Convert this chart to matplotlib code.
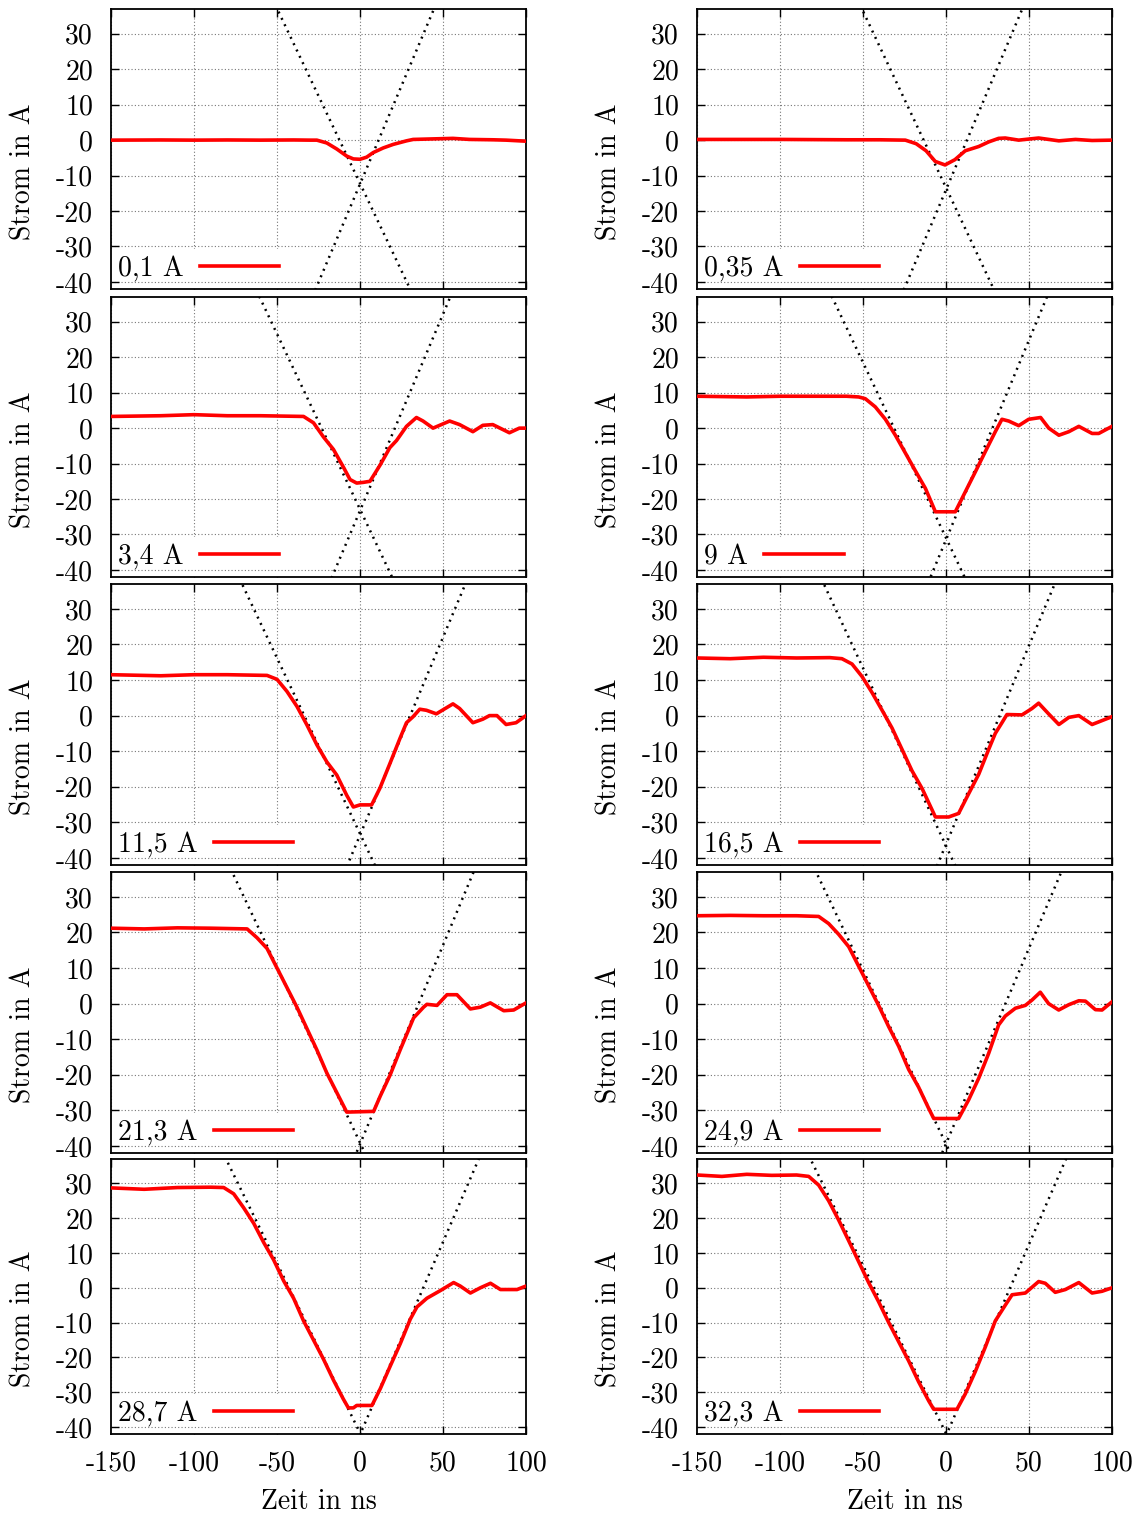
import numpy as np
import matplotlib
matplotlib.use('Agg')
import matplotlib.pyplot as plt

plt.rcParams['font.family'] = ['cmr10', 'DejaVu Serif']
plt.rcParams['axes.unicode_minus'] = False
plt.rcParams['axes.formatter.use_mathtext'] = False

# ---------------- data ----------------
labels = ['0,1 A', '0,35 A', '3,4 A', '9 A', '11,5 A',
          '16,5 A', '21,3 A', '24,9 A', '28,7 A', '32,3 A']

t_p1 = [-150, -120, -100, -80, -60, -40, -30, -26, -20, -14, -8, -4, 0, 4, 8, 14, 20, 28, 32, 40, 56, 66, 80, 88, 100]
i_p1 = [0.0, 0.05, 0.0, 0.05, 0.0, 0.05, 0.0, 0.0, -0.8, -2.5, -4.5, -5.3, -5.4, -4.8, -3.5, -2.2, -1.2, -0.2, 0.2, 0.3, 0.5, 0.2, 0.1, 0.0, -0.3]

t_p2 = [-150, -100, -60, -40, -24.5, -18, -12, -6.5, -0.6, 5.4, 11.6, 19.7, 25.7, 31.7, 35.7, 43.8, 55.8, 68, 78, 88, 100]
i_p2 = [0.2, 0.2, 0.1, 0.1, 0.0, -1.0, -3.0, -6.0, -7.0, -5.5, -3.0, -1.8, -0.5, 0.5, 0.6, 0.0, 0.6, -0.2, 0.2, -0.1, 0.0]

t_p3 = [-150, -120, -100, -80, -60, -34, -28, -22, -16, -10, -6, -2, 2, 6, 12, 18, 22, 28, 34, 38, 44, 54, 60, 68, 74, 80, 90, 96, 100]
i_p3 = [3.3, 3.5, 3.8, 3.5, 3.5, 3.3, 1.5, -2.5, -6.0, -11.0, -14.5, -15.5, -15.3, -15.0, -10.5, -5.5, -3.5, 0.5, 3.0, 2.0, 0.0, 2.0, 1.0, -1.0, 0.8, 1.0, -1.3, 0.0, 0.0]

t_p4 = [-150, -120, -100, -80, -60, -52.6, -48.6, -42.6, -36.5, -30.5, -24.5, -18.5, -12.4, -6.4, 5.6, 11.6, 17.7, 23.7, 29.7, 33.7, 37.8, 43.8, 49.8, 57, 61.9, 68, 74, 80, 88, 92, 100]
i_p4 = [9.0, 8.8, 9.0, 9.0, 9.0, 8.8, 8.3, 6.0, 2.5, -2.0, -7.0, -12.0, -17.0, -23.6, -23.6, -18.0, -12.3, -6.6, -1.0, 2.5, 2.0, 0.7, 2.5, 3.0, 0.0, -2.0, -1.0, 0.5, -1.5, -1.5, 0.5]

t_p5 = [-150, -120, -100, -80, -56, -50, -44, -38, -32, -26, -20, -14, -8, -4, 0, 7, 12, 18, 24, 28, 32, 36, 40, 46, 56, 60, 68, 74, 78, 82.5, 88, 94, 100]
i_p5 = [11.5, 11.2, 11.5, 11.5, 11.3, 10.2, 6.8, 2.6, -2.6, -8.2, -13.0, -16.7, -22.4, -25.7, -25.1, -25.1, -20.4, -13.5, -6.5, -2.0, -0.3, 1.8, 1.5, 0.5, 3.3, 2.0, -2.0, -1.0, 0.0, 0.0, -2.5, -2.0, 0.0]

t_p6 = [-150, -130, -110, -90, -70, -62.7, -56.6, -50.6, -44.6, -38.5, -32.5, -26.5, -20.5, -14.4, -8.4, -6.4, 1.6, 7.6, 13.6, 19.7, 25.7, 29.7, 33.7, 36.7, 45.8, 51.8, 55.8, 61.8, 68, 74, 80, 88, 100]
i_p6 = [16.2, 16.0, 16.4, 16.2, 16.3, 16.0, 14.5, 11.0, 6.5, 1.5, -3.5, -9.5, -15.5, -20.5, -26.5, -28.5, -28.5, -27.5, -22.0, -16.5, -9.5, -5.0, -2.0, 0.3, 0.2, 2.0, 3.5, 0.5, -2.5, -0.5, 0.0, -2.5, -0.3]

t_p7 = [-150, -130, -110, -90, -68, -62, -56, -50, -44, -38, -32, -26, -20, -14, -8, 8.2, 12.2, 18.2, 24.2, 32.3, 38.3, 40.3, 46.4, 52.4, 58.4, 66.5, 72.5, 78.5, 86.6, 92.6, 100]
i_p7 = [21.2, 21.0, 21.3, 21.2, 21.0, 18.5, 15.5, 10.0, 4.5, -1.0, -7.0, -13.0, -19.5, -25.0, -30.5, -30.3, -26.0, -20.0, -13.0, -4.0, -1.0, -0.2, -0.5, 2.5, 2.5, -1.5, -1.0, 0.2, -2.0, -1.8, 0.2]

t_p8 = [-150, -130, -110, -90, -76.7, -70.7, -64.7, -58.6, -52.6, -46.6, -40.6, -34.5, -28.5, -22.5, -16.5, -10.4, -7.4, 7.6, 13.7, 19.7, 25.7, 31.7, 35.7, 41.8, 47.8, 51.8, 56.8, 61.8, 67.9, 74, 80, 84, 90, 94, 100]
i_p8 = [24.7, 24.8, 24.7, 24.7, 24.5, 22.5, 19.5, 16.0, 10.5, 5.0, -0.5, -6.5, -12.0, -18.5, -23.5, -29.5, -32.3, -32.3, -27.0, -21.0, -14.0, -6.0, -3.5, -1.3, -0.5, 1.0, 3.2, 0.0, -1.8, -0.3, 0.8, 0.7, -1.7, -1.8, 0.5]

t_p9 = [-150, -130, -110, -90, -82.1, -76.1, -70.1, -64, -58, -52, -46, -40, -34, -28, -22, -16, -10, -7, -4, -2, 7.2, 12.2, 18.2, 24.3, 30.3, 34.3, 40.3, 48.4, 56.4, 60.4, 66.5, 72.5, 78.6, 84.6, 94.6, 100]
i_p9 = [28.7, 28.3, 28.8, 28.9, 28.8, 27.0, 23.0, 18.5, 13.0, 8.0, 2.0, -3.0, -9.5, -15.0, -20.5, -26.5, -32.0, -34.5, -34.5, -33.8, -33.8, -29.0, -22.5, -16.0, -9.0, -5.5, -3.0, -0.8, 1.5, 0.5, -1.5, 0.0, 1.3, -0.5, -0.5, 0.5]

t_p10 = [-150, -135, -120, -105, -90, -82.7, -76.7, -70.7, -64.7, -58.6, -52.6, -46.6, -40.6, -34.5, -28.5, -22.5, -16.5, -10.4, -7.4, 6.6, 11.6, 17.7, 23.7, 29.7, 35.7, 39.8, 47.8, 55.8, 59.8, 65.8, 71.9, 80, 88, 94, 100]
i_p10 = [32.4, 32.0, 32.6, 32.3, 32.4, 32.0, 29.5, 25.0, 19.5, 13.5, 7.5, 1.5, -4.0, -10.0, -15.5, -21.0, -27.0, -32.5, -34.9, -34.9, -30.5, -24.0, -17.0, -9.5, -5.0, -2.0, -1.5, 1.8, 1.3, -1.3, -0.5, 1.5, -1.5, -1.0, 0.0]

times = [t_p1, t_p2, t_p3, t_p4, t_p5, t_p6, t_p7, t_p8, t_p9, t_p10]
currents = [i_p1, i_p2, i_p3, i_p4, i_p5, i_p6, i_p7, i_p8, i_p9, i_p10]

# fitted straight lines (slope in A/ns, value at t = 0 in A)
fall_slope = [-0.987, -0.996, -0.99, -0.99, -0.988, -1.0, -0.988, -0.977, -0.975, -0.965]
fall_icpt = [-12.2, -13.4, -22.9, -30.95, -33.2, -36.6, -39.1, -39.45, -41.7, -41.8]
rise_slope = [1.109, 1.11, 1.109, 1.127, 1.112, 1.118, 1.118, 1.10, 1.107, 1.10]
rise_icpt = [-12.4, -14.0, -23.3, -31.5, -33.6, -36.2, -39.5, -39.4, -42.2, -42.5]

xticks = [-150, -100, -50, 0, 50, 100]
yticks = [-40, -30, -20, -10, 0, 10, 20, 30]
xlim = (-150, 100)
ylim = (-42, 37)

# ---------------- figure ----------------
W, H = 1146, 1519
fig = plt.figure(figsize=(W / 100, H / 100), dpi=100)
col_x = [111, 697]
col_w = 415
rows = [(9, 289), (297, 577), (584, 865), (872, 1153), (1159, 1434)]
FS = 20

for k in range(10):
    r, c = divmod(k, 2)
    top, bot = rows[r]
    ax = fig.add_axes([col_x[c] / W, 1 - bot / H, col_w / W, (bot - top) / H])
    xs = np.array(xlim, dtype=float)
    ax.plot(xs, fall_slope[k] * xs + fall_icpt[k], color='black',
            linestyle=(0, (0.8, 2.0)), linewidth=1.8, zorder=2)
    ax.plot(xs, rise_slope[k] * xs + rise_icpt[k], color='black',
            linestyle=(0, (0.8, 2.0)), linewidth=1.8, zorder=2)
    ax.plot(times[k], currents[k], color='#ff0000', linewidth=2.6,
            label=labels[k], zorder=3)
    ax.set_xlim(*xlim)
    ax.set_ylim(*ylim)
    ax.set_xticks(xticks)
    ax.set_yticks(yticks)
    ax.set_xticklabels([str(v) for v in xticks])
    ax.set_yticklabels([str(v) for v in yticks])
    ax.grid(True, color='#777777', linestyle=(0, (1, 2)), linewidth=0.8)
    ax.tick_params(direction='in', length=6, width=1.0, top=True, right=True,
                   labelsize=FS, color='black')
    ax.tick_params(axis='y', pad=13)
    ax.tick_params(axis='x', pad=12, labelbottom=(r == 4))
    for sp in ax.spines.values():
        sp.set_linewidth(1.3)
    ax.set_ylabel('Strom in A', fontsize=FS)
    ax.yaxis.set_label_coords(-0.18, 0.42)
    if r == 4:
        ax.set_xlabel('Zeit in ns', fontsize=FS)
        ax.xaxis.set_label_coords(0.5, -0.20)
    leg = ax.legend(loc='lower left', frameon=True, markerfirst=False,
                    handlelength=2.85, handletextpad=0.6, borderpad=0.25,
                    borderaxespad=0.0, fancybox=False, fontsize=FS,
                    framealpha=1.0)
    leg.get_frame().set_facecolor('white')
    leg.get_frame().set_edgecolor('none')
    leg.set_zorder(1.5)
    ax.xaxis.set_zorder(1.0)
    ax.yaxis.set_zorder(1.8)

fig.savefig('out.png', dpi=100)
